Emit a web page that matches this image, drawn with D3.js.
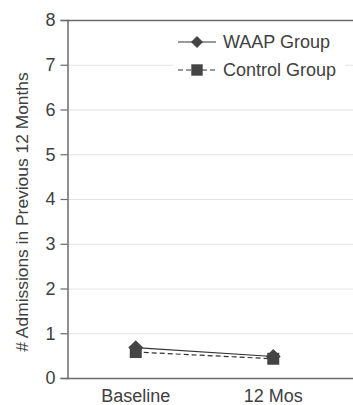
<!DOCTYPE html>
<html>
<head>
<meta charset="utf-8">
<script src="https://cdn.jsdelivr.net/npm/d3@7"></script>
<style>
  body { margin: 0; background: #fff; }
  svg { display: block; font-family: "Liberation Sans", Arial, sans-serif; }
</style>
</head>
<body>
<svg width="353" height="405"></svg>
<script>
var categories = ["Baseline", "12 Mos"];
var waap = [0.68, 0.48];
var control = [0.58, 0.43];
var seriesNames = ["WAAP Group", "Control Group"];
var yTicks = [0, 1, 2, 3, 4, 5, 6, 7, 8];

var svg = d3.select("svg");
var margin = {left: 67, top: 20, right: 11, bottom: 27};
var W = 353, H = 405;

var x = d3.scalePoint()
    .domain(categories)
    .range([margin.left, W - margin.right])
    .padding(0.5);

var y = d3.scaleLinear()
    .domain([0, 8])
    .range([H - margin.bottom, margin.top]);

var textColor = "#404040";
var axisColor = "#6b6b6b";
var lineColor = "#333";
var markColor = "#444";

// grid
svg.append("g").selectAll("line")
    .data(yTicks.filter(function(d) { return d > 0 && d < 8; }))
    .enter().append("line")
    .attr("x1", margin.left).attr("x2", W)
    .attr("y1", function(d) { return y(d) + 0.5; })
    .attr("y2", function(d) { return y(d) + 0.5; })
    .style("stroke", "#e2e2e2").style("stroke-width", 1);

// top border
svg.append("line")
    .attr("x1", margin.left).attr("x2", W)
    .attr("y1", y(8) + 0.5).attr("y2", y(8) + 0.5)
    .style("stroke", axisColor).style("stroke-width", 1.5);

// y axis
var yAxis = svg.append("g")
    .attr("transform", "translate(" + (margin.left + 0.5) + ",0)")
    .call(d3.axisLeft(y).tickValues(yTicks).tickSize(7).tickPadding(5).tickFormat(d3.format("d")));
yAxis.select(".domain").style("stroke", axisColor).style("stroke-width", 1.5);
yAxis.selectAll(".tick line").style("stroke", axisColor).style("stroke-width", 1.2);
yAxis.selectAll(".tick text").style("fill", textColor).style("font-size", "18px")
    .style("font-family", "Liberation Sans, Arial, sans-serif");

// x axis line
svg.append("line")
    .attr("x1", margin.left).attr("x2", W)
    .attr("y1", y(0) + 0.5).attr("y2", y(0) + 0.5)
    .style("stroke", axisColor).style("stroke-width", 1.5);

svg.append("g").selectAll("text")
    .data(categories)
    .enter().append("text")
    .attr("x", function(d) { return x(d); })
    .attr("y", 402)
    .attr("text-anchor", "middle")
    .style("fill", textColor).style("font-size", "18px")
    .text(function(d) { return d; });

// y label
svg.append("text")
    .attr("transform", "translate(28,212) rotate(-90)")
    .attr("text-anchor", "middle")
    .style("fill", textColor).style("font-size", "17.4px")
    .text("# Admissions in Previous 12 Months");

// series
var line = d3.line()
    .x(function(d, i) { return x(categories[i]); })
    .y(function(d) { return y(d); });

svg.append("path").datum(control)
    .attr("d", line)
    .style("fill", "none").style("stroke", lineColor).style("stroke-width", 1.2)
    .style("stroke-dasharray", "5,3");

svg.append("path").datum(waap)
    .attr("d", line)
    .style("fill", "none").style("stroke", lineColor).style("stroke-width", 1.2);

svg.append("g").selectAll("path")
    .data(waap).enter().append("path")
    .attr("d", d3.symbol().type(d3.symbolSquare).size(110))
    .attr("transform", function(d, i) { return "translate(" + x(categories[i]) + "," + y(d) + ") rotate(45)"; })
    .style("fill", markColor);

svg.append("g").selectAll("path")
    .data(control).enter().append("path")
    .attr("d", d3.symbol().type(d3.symbolSquare).size(144))
    .attr("transform", function(d, i) { return "translate(" + x(categories[i]) + "," + y(d) + ")"; })
    .style("fill", markColor);

// legend
var lg = svg.append("g");
lg.append("rect")
    .attr("x", 173).attr("y", 28).attr("width", 172).attr("height", 56)
    .style("fill", "#fff");

var legendRows = [
  {name: seriesNames[0], dash: null, sym: "diamond", y: 42},
  {name: seriesNames[1], dash: "5,3", sym: "square", y: 70}
];
legendRows.forEach(function(r) {
  lg.append("line")
      .attr("x1", 178).attr("x2", 216)
      .attr("y1", r.y).attr("y2", r.y)
      .style("stroke", lineColor).style("stroke-width", 1.2)
      .style("stroke-dasharray", r.dash);
  if (r.sym == "diamond") {
    lg.append("path")
        .attr("d", d3.symbol().type(d3.symbolSquare).size(72))
        .attr("transform", "translate(197," + r.y + ") rotate(45)")
        .style("fill", markColor);
  } else {
    lg.append("path")
        .attr("d", d3.symbol().type(d3.symbolSquare).size(130))
        .attr("transform", "translate(197," + r.y + ")")
        .style("fill", markColor);
  }
  lg.append("text")
      .attr("x", 223).attr("y", r.y + 6)
      .style("fill", textColor).style("font-size", "18px")
      .text(r.name);
});
</script>
</body>
</html>
